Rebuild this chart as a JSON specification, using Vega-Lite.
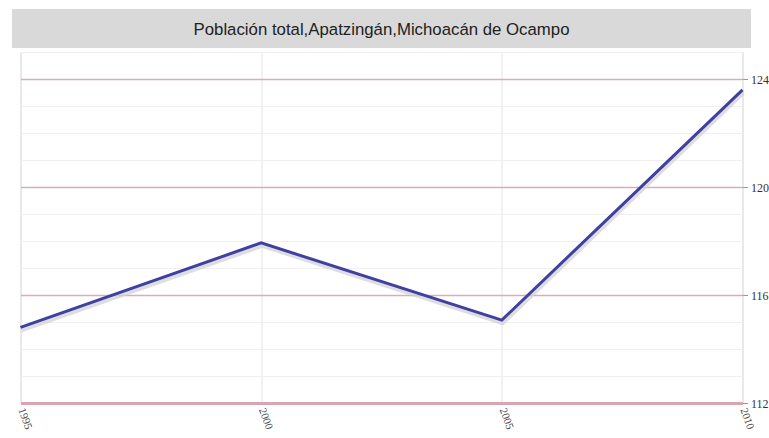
{
  "$schema": "https://vega.github.io/schema/vega-lite/v6.json",
  "autosize": {"type": "pad"},
  "padding": {"left": 12, "top": 9, "right": 0, "bottom": 0},
  "background": "white",
  "center": true,
  "bounds": "flush",
  "spacing": 4,
  "datasets": {
    "pop": [
      {"year": 1995, "value": 114.8},
      {"year": 2000, "value": 117.93},
      {"year": 2005, "value": 115.07},
      {"year": 2010, "value": 123.6}
    ]
  },
  "vconcat": [
    {
      "width": 739,
      "height": 39,
      "view": {"fill": "#d9d9d9", "stroke": null},
      "data": {"values": [{"t": "Población total,Apatzingán,Michoacán de Ocampo"}]},
      "mark": {"type": "text", "font": "Liberation Sans", "fontSize": 16.8, "color": "#222222", "baseline": "middle", "align": "center", "dy": 1},
      "encoding": {"text": {"field": "t"}}
    },
    {
      "width": 722,
      "height": 351,
      "view": {"stroke": "#dddddd", "strokeWidth": 1},
      "data": {"name": "pop"},
      "layer": [
        {
          "mark": {"type": "line", "opacity": 0},
          "encoding": {
            "x": {"field": "year", "type": "quantitative", "scale": {"domain": [1995, 2010], "nice": false, "zero": false},
              "axis": {"title": null, "values": [1995, 2000, 2005, 2010], "format": "d", "grid": true, "gridColor": "#e4e4e4", "gridWidth": 1, "domain": true, "domainColor": "#d9a5b2", "domainWidth": 3, "ticks": false, "labelAngle": 70, "labelAlign": "left", "labelBaseline": "middle", "labelFont": "Liberation Serif", "labelFontSize": 11, "labelColor": "#444444", "labelPadding": 5, "labelOverlap": false, "labelBound": false}},
            "y": {"field": "value", "type": "quantitative", "scale": {"domain": [112, 125], "nice": false, "zero": false},
              "axis": {"title": null, "orient": "right", "values": [112,113,114,115,116,117,118,119,120,121,122,123,124,125], "grid": true, "gridColor": "#f0f0f0", "gridWidth": 1, "labels": false, "ticks": false, "domain": false}}
          }
        },
        {
          "mark": {"type": "line", "color": "#cfcfd6", "strokeWidth": 4, "xOffset": 1, "yOffset": 3, "opacity": 0.7},
          "encoding": {
            "x": {"field": "year", "type": "quantitative"},
            "y": {"field": "value", "type": "quantitative",
              "axis": {"title": null, "orient": "right", "values": [112, 116, 120, 124], "grid": true, "gridColor": "#d6aebd", "gridWidth": 1.5, "domain": false, "ticks": true, "tickColor": "#999999", "tickSize": 5, "labelFont": "Liberation Serif", "labelFontSize": 12, "labelColor": "#333333", "labelPadding": 3}}
          }
        },
        {
          "mark": {"type": "line", "color": "#4040a0", "strokeWidth": 3},
          "encoding": {
            "x": {"field": "year", "type": "quantitative"},
            "y": {"field": "value", "type": "quantitative", "axis": null}
          }
        }
      ],
      "resolve": {"axis": {"y": "independent"}}
    }
  ]
}
